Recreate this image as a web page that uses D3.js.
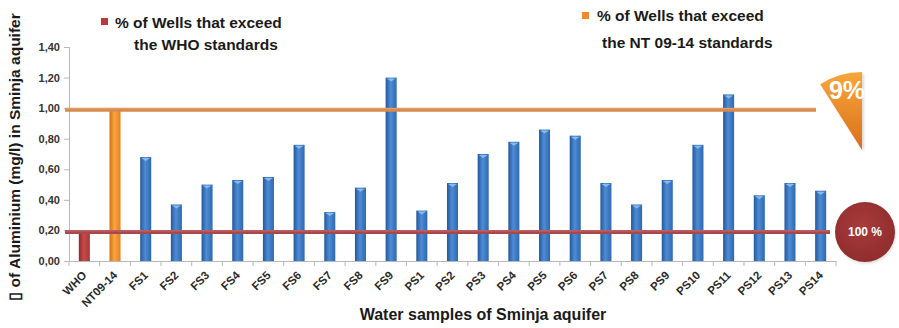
<!DOCTYPE html>
<html>
<head>
<meta charset="utf-8">
<script src="https://cdn.jsdelivr.net/npm/d3@7"></script>
<style>
  html, body { margin: 0; padding: 0; background: #ffffff; }
  svg { display: block; font-family: "Liberation Sans", Arial, sans-serif; }
</style>
</head>
<body>
<svg id="chart" width="899" height="328"></svg>
<script>
// Aluminium concentration (mg/l) in water samples of the Sminja aquifer
const categories = ["WHO", "NT09-14", "FS1", "FS2", "FS3", "FS4", "FS5", "FS6", "FS7", "FS8", "FS9",
  "PS1", "PS2", "PS3", "PS4", "PS5", "PS6", "PS7", "PS8", "PS9", "PS10", "PS11", "PS12", "PS13", "PS14"];
const aluminium = [0.20, 1.00, 0.68, 0.37, 0.50, 0.53, 0.55, 0.76, 0.32, 0.48, 1.20,
  0.33, 0.51, 0.70, 0.78, 0.86, 0.82, 0.51, 0.37, 0.53, 0.76, 1.09, 0.43, 0.51, 0.46];
const yTicks = [0, 0.2, 0.4, 0.6, 0.8, 1.0, 1.2, 1.4];
const whoLimit = 0.20;
const ntLimit = 1.00;
const pctExceedWHO = 100;   // % of wells over the WHO limit
const pctExceedNT = 9;      // % of wells over the NT 09-14 limit

const svg = d3.select("#chart");
const defs = svg.append("defs");

const x = d3.scaleBand().domain(categories).range([69, 836]).paddingInner(0.64).paddingOuter(0.32);
const y = d3.scaleLinear().domain([0, 1.4]).range([261, 47]);

// bar gradients (cylinder-like shading)
function barGradient(id, dark, mid, light) {
  const g = defs.append("linearGradient").attr("id", id).attr("x1", "0").attr("x2", "1").attr("y1", "0").attr("y2", "0");
  g.append("stop").attr("offset", "0%").attr("stop-color", dark);
  g.append("stop").attr("offset", "45%").attr("stop-color", light);
  g.append("stop").attr("offset", "100%").attr("stop-color", mid);
}
barGradient("gBlue", "#24589c", "#2f68ae", "#4d8cd4");
barGradient("gRed", "#8e2a2a", "#a83636", "#c94a4a");
barGradient("gOrange", "#d86f12", "#e8801e", "#f9a443");

const wedgeGrad = defs.append("linearGradient").attr("id", "gWedge").attr("x1", "0").attr("x2", "0").attr("y1", "0").attr("y2", "1");
wedgeGrad.append("stop").attr("offset", "0%").attr("stop-color", "#f8a63c");
wedgeGrad.append("stop").attr("offset", "100%").attr("stop-color", "#d9701a");

const circGrad = defs.append("radialGradient").attr("id", "gCirc").attr("cx", "45%").attr("cy", "40%").attr("r", "65%");
circGrad.append("stop").attr("offset", "0%").attr("stop-color", "#a83b3b");
circGrad.append("stop").attr("offset", "100%").attr("stop-color", "#8e2c2c");

const shadow = defs.append("filter").attr("id", "soft").attr("x", "-20%").attr("y", "-20%").attr("width", "140%").attr("height", "160%");
shadow.append("feGaussianBlur").attr("stdDeviation", 1.2);

// axes
const yAxis = svg.append("g").attr("transform", "translate(69,0)")
  .call(d3.axisLeft(y).tickValues(yTicks).tickSize(5).tickPadding(4)
    .tickFormat(d => d3.format(".2f")(d).replace(".", ",")));
yAxis.select(".domain").attr("stroke", "#b8b8b8");
yAxis.selectAll(".tick line").attr("stroke", "#b8b8b8");
yAxis.selectAll(".tick text").attr("font-size", 11).attr("font-weight", "bold").attr("fill", "#333")
  .attr("font-family", "'Liberation Sans', Arial, sans-serif");

const xAxis = svg.append("g").attr("transform", "translate(0,261)")
  .call(d3.axisBottom(x).tickSize(0).tickPadding(0));
xAxis.select(".domain").attr("stroke", "#b8b8b8");
xAxis.selectAll(".tick text")
  .attr("font-size", 11.5).attr("font-weight", "bold").attr("fill", "#2a2a2a")
  .attr("font-family", "'Liberation Sans', Arial, sans-serif")
  .attr("text-anchor", "end")
  .attr("dy", null)
  .attr("transform", "translate(3,15) rotate(-45)");

// tick marks between categories
const half = x.step() * x.paddingInner() / 2;
svg.append("g").selectAll("line")
  .data(categories.map(c => x(c) - half).concat([x(categories[categories.length - 1]) + x.bandwidth() + half]))
  .join("line")
  .attr("x1", d => d).attr("x2", d => d)
  .attr("y1", 261).attr("y2", 266)
  .attr("stroke", "#b8b8b8");

// bars
const fills = categories.map((c, i) => i === 0 ? "url(#gRed)" : i === 1 ? "url(#gOrange)" : "url(#gBlue)");
const capFill = categories.map((c, i) => i === 0 ? "#e07878" : i === 1 ? "#ffc27a" : "#8ec0f0");
const bars = svg.append("g");
bars.selectAll("rect").data(categories).join("rect")
  .attr("x", c => x(c)).attr("width", x.bandwidth())
  .attr("y", (c, i) => y(aluminium[i])).attr("height", (c, i) => y(0) - y(aluminium[i]))
  .attr("fill", (c, i) => fills[i]);
bars.selectAll("path.cap").data(categories).join("path").attr("class", "cap")
  .attr("d", (c, i) => {
    const x0 = x(c), w = x.bandwidth(), t = y(aluminium[i]);
    return `M${x0 + 1},${t + 1} L${x0 + w - 1},${t + 1} L${x0 + w / 2},${t + 4} Z`;
  })
  .attr("fill", (c, i) => capFill[i]).attr("opacity", 0.9);

// standard limit lines (drawn just under the limit value, like the bar caps)
function limitLine(v, x2, color, hi) {
  const ly = y(v) + 1.5;
  svg.append("line").attr("x1", 65).attr("x2", x2).attr("y1", ly + 2).attr("y2", ly + 2)
    .attr("stroke", "#666").attr("stroke-width", 3).attr("opacity", 0.45).attr("filter", "url(#soft)");
  svg.append("line").attr("x1", 65).attr("x2", x2).attr("y1", ly).attr("y2", ly)
    .attr("stroke", color).attr("stroke-width", 4);
  svg.append("line").attr("x1", 65).attr("x2", x2).attr("y1", ly - 1).attr("y2", ly - 1)
    .attr("stroke", hi).attr("stroke-width", 1).attr("opacity", 0.6);
}
limitLine(ntLimit, 816, "#d78a4c", "#f0b07a");
limitLine(whoLimit, 830, "#a8474c", "#d98a8e");

// 9% wedge
const wedgeCx = 862, wedgeCy = 150;
const arc = d3.arc().innerRadius(0).outerRadius(78)
  .startAngle(-2 * Math.PI * pctExceedNT / 100).endAngle(0);
svg.append("path").attr("d", arc()).attr("transform", `translate(${wedgeCx + 2},${wedgeCy + 2})`)
  .attr("fill", "#999").attr("opacity", 0.35).attr("filter", "url(#soft)");
svg.append("path").attr("d", arc()).attr("transform", `translate(${wedgeCx},${wedgeCy})`)
  .attr("fill", "url(#gWedge)");
svg.append("text").attr("x", 847).attr("y", 99).attr("text-anchor", "middle")
  .attr("font-size", 25).attr("font-weight", "bold").attr("fill", "#fff")
  .text(pctExceedNT + "%");

// 100% circle
svg.append("circle").attr("cx", 866).attr("cy", 234).attr("r", 30).attr("fill", "#aaa").attr("opacity", 0.35).attr("filter", "url(#soft)");
svg.append("circle").attr("cx", 865).attr("cy", 232).attr("r", 30).attr("fill", "url(#gCirc)");
svg.append("text").attr("x", 865).attr("y", 236).attr("text-anchor", "middle")
  .attr("font-size", 12).attr("font-weight", "bold").attr("fill", "#fff")
  .text(pctExceedWHO + " %");

// legend
const legend = svg.append("g").attr("font-weight", "bold").attr("font-size", 15.5).attr("fill", "#1a1a1a");
legend.append("rect").attr("x", 101).attr("y", 18).attr("width", 7).attr("height", 7).attr("fill", "#b83a3a");
legend.append("text").attr("x", 115).attr("y", 28).text("% of Wells that exceed");
legend.append("text").attr("x", 134).attr("y", 50).text("the WHO standards");
legend.append("rect").attr("x", 582).attr("y", 12).attr("width", 7).attr("height", 7).attr("fill", "#ee8a2a");
legend.append("text").attr("x", 597).attr("y", 21).text("% of Wells that exceed");
legend.append("text").attr("x", 602).attr("y", 48).text("the NT 09-14 standards");

// axis titles
svg.append("text").attr("x", 483).attr("y", 320).attr("text-anchor", "middle")
  .attr("font-size", 16).attr("font-weight", "bold").attr("fill", "#1a1a1a")
  .text("Water samples of Sminja aquifer");
svg.append("text").attr("transform", "translate(20,157) rotate(-90)").attr("text-anchor", "middle")
  .attr("font-size", 15.5).attr("font-weight", "bold").attr("fill", "#1a1a1a")
  .text("\u25AF of Aluminium (mg/l) in Sminja aquifer");
</script>
</body>
</html>
